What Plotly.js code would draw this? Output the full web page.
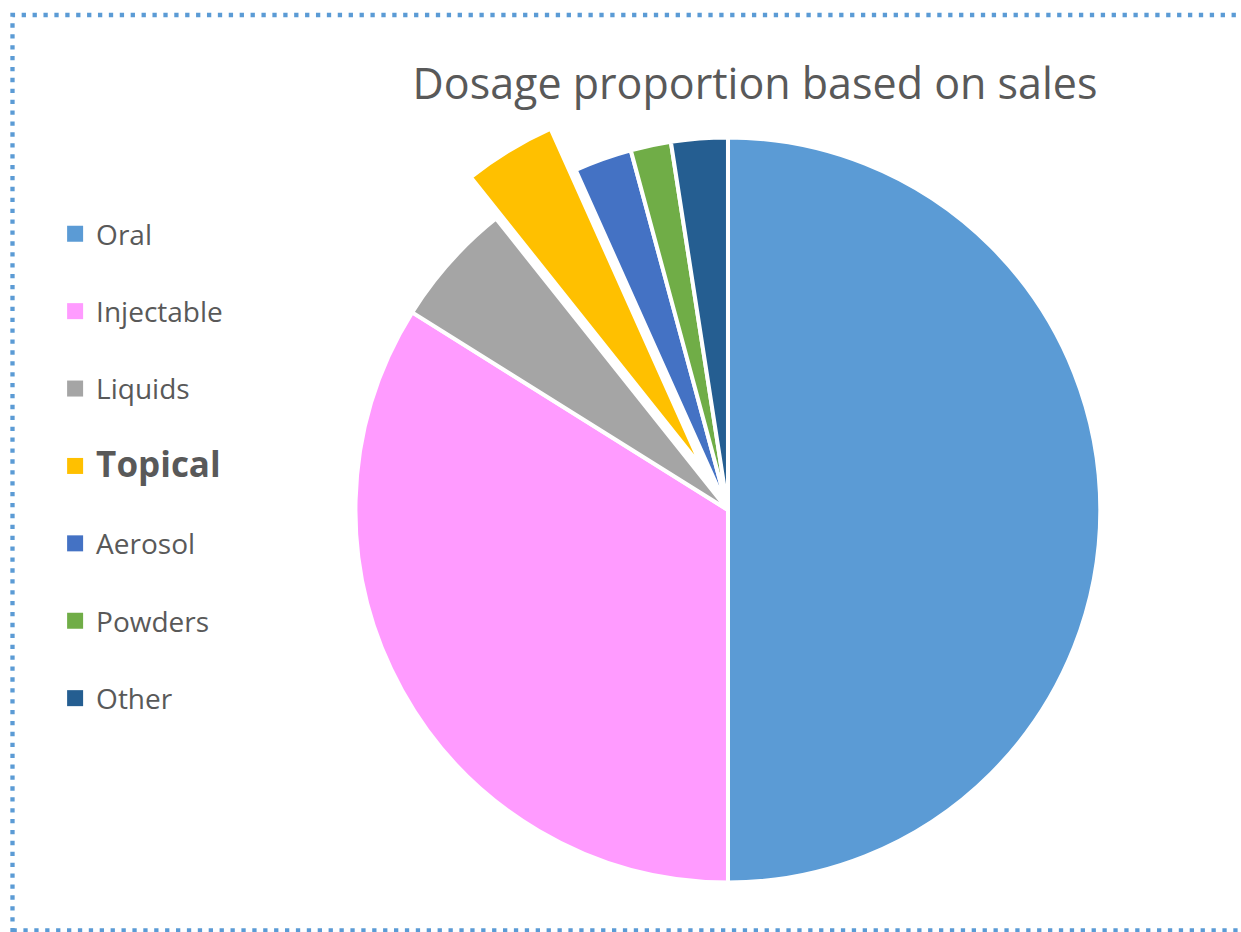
<!DOCTYPE html>
<html>
<head>
<meta charset="utf-8">
<script src="https://cdn.plot.ly/plotly-3.0.1.min.js"></script>
<style>
  html, body { margin: 0; padding: 0; background: #ffffff; }
  #chart { width: 1241px; height: 932px; }
</style>
</head>
<body>
<div id="chart"></div>
<script>
// ---- data ----
const categories = ['Oral', 'Injectable', 'Liquids', 'Topical', 'Aerosol', 'Powders', 'Other'];
const shares = [50, 33.9, 5.4, 4.0, 2.5, 1.75, 2.45];
const sliceColors = ['#5B9BD5', '#FF9BFF', '#A5A5A5', '#FFC000', '#4472C4', '#70AD47', '#255E91'];
const highlighted = 'Topical';
const chartTitle = 'Dosage proportion based on sales';

// ---- pie ----
const pieTrace = {
  type: 'pie',
  labels: categories,
  values: shares,
  sort: false,
  direction: 'clockwise',
  rotation: 0,
  pull: categories.map(c => c === highlighted ? 0.13 : 0),
  marker: { colors: sliceColors, line: { color: '#ffffff', width: 4 } },
  textinfo: 'none',
  hoverinfo: 'label+percent',
  showlegend: false,
  domain: { x: [0.2474, 0.9258], y: [0.0011, 0.9045] }
};

// ---- legend entries (one per category) ----
const legendTraces = categories.map((c, i) => ({
  type: 'scatter',
  mode: 'markers',
  x: [null],
  y: [null],
  name: c === highlighted
    ? '<b><span style="font-size:35px">' + c + '</span></b>'
    : c,
  legendgroup: 'g' + i,
  marker: { symbol: 'square', size: 16, color: sliceColors[i] },
  hoverinfo: 'skip',
  showlegend: true
}));

const layout = {
  width: 1241,
  height: 932,
  margin: { l: 0, r: 0, t: 0, b: 0 },
  paper_bgcolor: '#ffffff',
  plot_bgcolor: '#ffffff',
  font: { family: '"Open Sans", sans-serif', color: '#595959' },
  title: {
    text: chartTitle,
    font: { family: '"Open Sans", sans-serif', size: 43, color: '#595959' },
    xref: 'paper', x: 0.6084, xanchor: 'center',
    yref: 'container', y: 0.91, yanchor: 'middle'
  },
  xaxis: { visible: false },
  yaxis: { visible: false },
  showlegend: true,
  legend: {
    x: 0.0436, xanchor: 'left',
    y: 0.7757, yanchor: 'top',
    font: { family: '"Open Sans", sans-serif', size: 28, color: '#595959' },
    itemwidth: 32,
    tracegroupgap: 38,
    traceorder: 'grouped',
    bgcolor: 'rgba(0,0,0,0)',
    borderwidth: 0
  },
  shapes: [{
    type: 'rect',
    xref: 'paper', yref: 'paper',
    x0: 0.01007, x1: 1.03, y0: 0.0016, y1: 0.9839,
    line: { color: '#5B9BD5', width: 4.3, dash: '4.3px,6.6px' },
    fillcolor: 'rgba(0,0,0,0)',
    layer: 'above'
  }]
};

Plotly.newPlot('chart', [pieTrace].concat(legendTraces), layout, { displayModeBar: false, staticPlot: true });
</script>
</body>
</html>
